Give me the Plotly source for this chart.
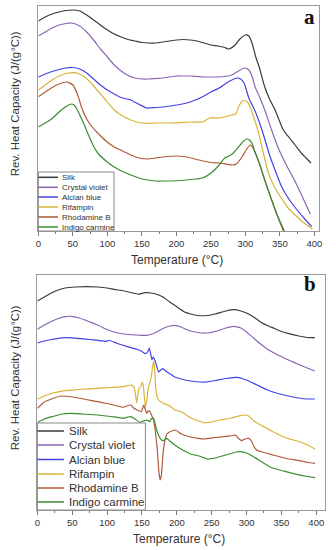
import plotly.graph_objects as go

W, H = 336, 550

# ---------------- data : panel a (arbitrary units) ----------------
NAMES = ["Silk", "Crystal violet", "Alcian blue", "Rifampin", "Rhodamine B", "Indigo carmine"]
COLORS = ["#3a3a3a", "#8b66b3", "#4343e4", "#d8b43a", "#b0593a", "#3c8b32"]

A_SILK_T = [0,10,20,30,40,50,60,70,80,90,100,110,120,130,140,150,160,170,180,190,200,210,220,230,240,250,260,270,276,285,292,300,305,310,315,320,328,335,343,355,365,373,381,388,395]
A_SILK_V = [210,214,217,219,220.5,221,220,216,211,206,201,197,194,191.5,190,188.5,188,188,189,190,191,191.5,191,190,188,186,185,183.5,182,186,192,196,195,187,174,164,144,132,121,101,92,85,78,73,68]

A_CV_T = [0,10,20,30,40,48,60,70,80,90,100,110,120,130,140,150,160,170,180,190,200,210,220,230,240,250,260,270,280,290,299,305,310,314,320,328,338,347,360,371,384,394]
A_CV_V = [195,199,203,206,207.5,208,205,199,191,182,174,166,160,155.5,153,152,152,152.5,153,154,155,155,155,154.5,154,154,154,154.5,156,160,163,161,154,144,135,121,101,84,65,51,32,17]

A_AB_T = [0,10,20,30,40,50,60,70,80,90,100,110,120,134,145,157,170,180,191,205,220,238,250,262,275,288,293,298,305,314,324,335,344,352,362,375,386,396]
A_AB_V = [154,157,159.5,161.5,163,163.5,162,158,152,146,141,137,133.5,131,127,123,123.5,124,125,126.5,129,134.3,139,143,149,153,152,148,133,120,101,76,59,45,33,21,12,4.5]

A_RIF_T = [0,10,20,30,40,53,65,75,85,95,110,120,134,145,158,170,180,191,205,220,238,243,248,262,275,280,286,290,295,299,303,307,312,318,325,333,342,352,362,375,385,397]
A_RIF_V = [141,146,151,155,157.5,158.3,155,149,141,133,121,116,111,108.5,107.7,108,108,108,108.3,109,109,111,113,113,115,116,117,124,129.5,130.5,129,124,114,101,81,59,44,33,23,14,8,2]

A_RHB_T = [0,10,20,30,41,50,57,63,70,78,86,98,110,122,134,146,158,170,181,200,215,233,250,262,275,281,287,295,302,307,311,315,320,328,338,348,357,365]
A_RHB_V = [134.3,139,143.5,147,149,146,136,123,112,104,98,90,84,80,76,73,72,73,74,75,74,71,68.5,68,66.5,66,67,74,82,86,83,77,68,51,31,12,-3,-17]

A_IC_T = [0,10,20,30,40,48,52,55,60,66,72,79,86,98,110,122,134,146,158,170,181,205,220,238,252,262,270,276,281,290,296,302,306,310,314,320,328,338,348,357,365]
A_IC_V = [104,108,112.5,119,124.5,127,126,123,116,107,97,86,78,70,64,59.5,56,53,51,50,50,50.5,51.5,53,59,66,73,75,77,84,89,92,91,87,79,68,51,31,13,-1,-15]

# ---------------- data : panel b (arbitrary units) ----------------
B_SILK_T = [0,10,20,30,40,54,70,87,100,110,125,140,146,150,155,163,171,180,190,197,204,211,220,230,244,255,270,282,292,300,310,320,329,340,350,361,375,387,398]
B_SILK_V = [209,213,217,220,222,223,223.3,223,222,220.7,219,216.5,215.7,216.7,217.3,217,215.7,213,208,204.7,201.3,198,196,194.5,194.5,196,199,200.3,199,197,193,188,184.7,181.5,178.5,176.3,174,172.5,172.3]

B_CV_T = [0,10,20,30,40,49,60,70,87,100,110,120,134,150,157,165,171,180,190,197,206,216,230,244,258,270,282,292,300,310,320,329,345,361,375,387,398]
B_CV_V = [180.7,185,188.5,191.5,193.3,193.7,192,189.5,184.7,180.5,178,176.5,175.3,174.7,174.7,176,178,181.5,184,184.7,183,179.7,177.5,177,179,182,183.7,182,178,172,166,161.3,155,149.7,145.5,142,139]

B_AB_T = [0,10,20,30,40,50,63,75,87,98,103,106,115,123,133,143,150,155,158,160.6,162.5,164.3,166,169,173.7,177,180,185,190,197,204,215,225,242,255,270,286,300,315,330,345,360,375,387,398]
B_AB_V = [167,169,170.5,171.7,172.3,172.2,171.3,170.5,169.7,168.7,169.5,169,166.5,164.7,162.7,160.7,158.5,156.3,158,162,156,150,153,149,138,140,141.3,138.5,136.3,133,131.5,129.5,128.5,128,129.5,131.5,132.7,130,125,120,116.5,114,112,111,111]

B_RIF_T = [0,10,21,30,40,60,86,105,123,130,134,137,139,141,142.5,144,146,148,150.5,152,153.5,155,157,159,161,163,165,166.7,168,169.5,171,174,180,190,197,207,220,239,250,262,278,291,298,303,310,320,338,357,376,388,398]
B_RIF_V = [110.7,114,116.7,118.2,119.3,120.5,121.7,122.5,123.3,124.5,125,124,122,114,107,115,122,123,128,124,112,103,110,122,127,132,142,149,142,125,115,110,107,104,100,98,92,87.3,88,90,92,94.3,95,94,89.3,85,78.3,72,68.3,65,61]

B_RHB_T = [0,10,20,35,50,70,86,100,115,123,130,134,138,143,149,152.6,155,157,159,160.6,163,166.6,169,172,174,176,178,180,183,186,190,198,206.6,220,239,255,268,280,284,288,293,298,303,307,311,314.5,322,338,357,376,388,398]
B_RHB_V = [101.7,108,111,114,113,110.5,108.3,106.5,104,102.7,104.5,105,102,100,98.3,105,100,96.7,99,99.3,96,90,80,60,40,30,35,55,70,76,78.3,80,76,73,71,72.5,73.3,74.5,75,72,69.3,71,71.7,69,63,60,58,55,51.5,49.3,47.5,46.7]

B_IC_T = [0,10,21,35,49,65,86,105,123,130,134,140,146.5,152,157,161,164,166.6,169,171,175,178,181,185.5,190,197,204,220,232,244,255,270,285,291,300,310,320,333,350,366,383,398]
B_IC_V = [87.5,91,93.3,96,96.7,96,95,93.5,91.7,93,93.3,91,87.7,89,90,88.3,91.7,91.7,86,80,73,70,69.5,71.7,69,65,61.7,56,54,51,52,55,58,58.3,57,53.3,49,43.3,39.5,36.7,34,32.3]

X_TICKS = [0, 50, 100, 150, 200, 250, 300, 350, 400]
X_TITLE = "Temperature (°C)"
Y_TITLE = "Rev. Heat Capacity (J/(g°C))"
PANEL_LABELS = ["a", "b"]

PANEL_A = [(A_SILK_T, A_SILK_V), (A_CV_T, A_CV_V), (A_AB_T, A_AB_V),
           (A_RIF_T, A_RIF_V), (A_RHB_T, A_RHB_V), (A_IC_T, A_IC_V)]
PANEL_B = [(B_SILK_T, B_SILK_V), (B_CV_T, B_CV_V), (B_AB_T, B_AB_V),
           (B_RIF_T, B_RIF_V), (B_RHB_T, B_RHB_V), (B_IC_T, B_IC_V)]

# ---------------- layout helpers ----------------
def px(x):
    return x / W

def py(y):
    return 1 - y / H

FONT = "Liberation Sans, Arial, sans-serif"
TXT = "#333333"
FRAME = "#9a9a9a"

fig = go.Figure()

for i, (t, v) in enumerate(PANEL_A):
    fig.add_trace(go.Scatter(x=t, y=v, name=NAMES[i], mode="lines",
                             line=dict(color=COLORS[i], width=1.2, shape="spline", smoothing=0.6),
                             xaxis="x", yaxis="y", showlegend=False))
for i, (t, v) in enumerate(PANEL_B):
    fig.add_trace(go.Scatter(x=t, y=v, name=NAMES[i], mode="lines",
                             line=dict(color=COLORS[i], width=1.2, shape="spline", smoothing=0.3),
                             xaxis="x2", yaxis="y2", showlegend=False))

def xaxis_cfg(dom, rng, anchor):
    return dict(domain=dom, range=rng, anchor=anchor,
                tickmode="array", tickvals=X_TICKS,
                ticks="outside", ticklen=4, tickwidth=1, tickcolor="#777",
                minor=dict(ticks="outside", ticklen=2, tickcolor="#777", dtick=25, tick0=0),
                showline=True, linecolor=FRAME, linewidth=1, mirror=True,
                showgrid=False, zeroline=False,
                tickfont=dict(family=FONT, size=9.5, color=TXT))

def yaxis_cfg(dom, rng, anchor):
    return dict(domain=dom, range=rng, anchor=anchor,
                showticklabels=False, ticks="",
                showline=True, linecolor=FRAME, linewidth=1, mirror=True,
                showgrid=False, zeroline=False)

fig.update_layout(
    width=W, height=H,
    margin=dict(l=0, r=0, t=0, b=0),
    paper_bgcolor="white", plot_bgcolor="white",
    showlegend=False,
    xaxis=xaxis_cfg([px(36), px(322)], [0, 407], "y"),
    yaxis=yaxis_cfg([py(231), py(6)], [0, 225], "x"),
    xaxis2=xaxis_cfg([px(35), px(328)], [0, 412.7], "y2"),
    yaxis2=yaxis_cfg([py(510), py(275)], [0, 235], "x2"),
)

annotations = []
shapes = []

# axis titles and panel letters
for yc in (104, 378):
    annotations.append(dict(x=px(12.5), y=py(yc), xref="paper", yref="paper",
                            text=Y_TITLE, textangle=-90, showarrow=False,
                            font=dict(family=FONT, size=11.5, color=TXT),
                            xanchor="center", yanchor="middle"))
for xc, yc in ((177, 260), (179, 539)):
    annotations.append(dict(x=px(xc), y=py(yc), xref="paper", yref="paper",
                            text=X_TITLE, showarrow=False,
                            font=dict(family=FONT, size=12, color=TXT),
                            xanchor="center", yanchor="middle"))
for lab, (xc, yc) in zip(PANEL_LABELS, [(312, 17), (312.5, 284)]):
    annotations.append(dict(x=px(xc), y=py(yc), xref="paper", yref="paper",
                            text="<b>%s</b>" % lab, showarrow=False,
                            font=dict(family="Liberation Serif, Times New Roman, serif", size=21, color="#111"),
                            xanchor="center", yanchor="middle"))

# legends (drawn boxes)
legend_specs = [
    dict(box=(36, 172, 113, 231), line_x=(36, 56), text_x=58,
         rows=[177.3, 187.3, 197, 207, 217, 227], size=8),
    dict(box=(35, 423, 145, 510), line_x=(35, 62), text_x=65,
         rows=[431, 445, 459.5, 474, 488, 502], size=11.5),
]
for spec in legend_specs:
    x0, y0, x1, y1 = spec["box"]
    shapes.append(dict(type="rect", xref="paper", yref="paper",
                       x0=px(x0), x1=px(x1), y0=py(y1), y1=py(y0),
                       line=dict(color="#8a8a8a", width=1), fillcolor="white", layer="above"))
    for i, yr in enumerate(spec["rows"]):
        shapes.append(dict(type="line", xref="paper", yref="paper",
                           x0=px(spec["line_x"][0]), x1=px(spec["line_x"][1]),
                           y0=py(yr), y1=py(yr),
                           line=dict(color=COLORS[i], width=1.5), layer="above"))
        annotations.append(dict(x=px(spec["text_x"]), y=py(yr), xref="paper", yref="paper",
                                text=NAMES[i], showarrow=False,
                                font=dict(family=FONT, size=spec["size"], color=TXT),
                                xanchor="left", yanchor="middle"))

fig.update_layout(annotations=annotations, shapes=shapes)
fig.write_html("out.html",
               config={"displayModeBar": False},
               post_script="document.body.style.margin='0';document.body.style.overflow='hidden';")
